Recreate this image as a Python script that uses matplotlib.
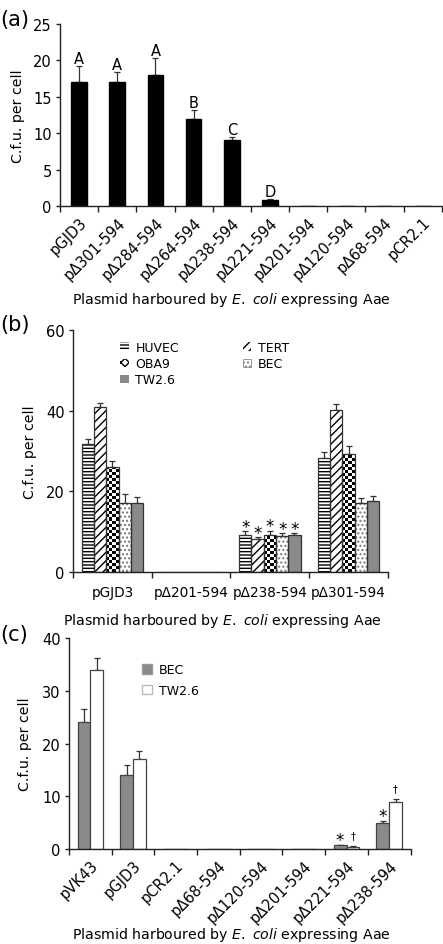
import numpy as np
import matplotlib
matplotlib.use('Agg')
import matplotlib.pyplot as plt
from matplotlib.patches import Patch

plt.rcParams['font.family'] = ['DejaVu Sans']
plt.rcParams['mathtext.fontset'] = 'dejavusans'
plt.rcParams['hatch.linewidth'] = 1.0

# ---------------- data ----------------
# Panel (a)
a_labels = ['pGJD3', 'pΔ301-594', 'pΔ284-594', 'pΔ264-594', 'pΔ238-594',
            'pΔ221-594', 'pΔ201-594', 'pΔ120-594', 'pΔ68-594', 'pCR2.1']
a_values = [17.0, 17.0, 18.0, 12.0, 9.0, 0.8, 0, 0, 0, 0]
a_errors = [2.2, 1.4, 2.3, 1.2, 0.5, 0.2, 0, 0, 0, 0]
a_letters = ['A', 'A', 'A', 'B', 'C', 'D', '', '', '', '']

# Panel (b)
b_groups = ['pGJD3', 'pΔ201-594', 'pΔ238-594', 'pΔ301-594']
b_series = ['HUVEC', 'TERT', 'OBA9', 'BEC', 'TW2.6']
b_huvec = [31.7, 0, 9.3, 28.4]
b_huvec_err = [1.4, 0, 0.8, 1.3]
b_tert = [40.8, 0, 8.2, 40.1]
b_tert_err = [1.0, 0, 0.5, 1.6]
b_oba9 = [26.0, 0, 9.3, 29.3]
b_oba9_err = [1.6, 0, 1.0, 2.0]
b_bec = [17.1, 0, 9.1, 17.1]
b_bec_err = [2.2, 0, 0.6, 1.4]
b_tw = [17.1, 0, 9.15, 17.6]
b_tw_err = [1.6, 0, 0.5, 1.4]
b_marks = ['', '', '*', '']

# Panel (c)
c_labels = ['pVK43', 'pGJD3', 'pCR2.1', 'pΔ68-594', 'pΔ120-594',
            'pΔ201-594', 'pΔ221-594', 'pΔ238-594']
c_bec = [24.0, 14.0, 0, 0, 0, 0, 0.7, 5.0]
c_bec_err = [2.5, 1.9, 0, 0, 0, 0, 0.15, 0.4]
c_tw = [34.0, 17.0, 0, 0, 0, 0, 0.45, 9.0]
c_tw_err = [2.2, 1.6, 0, 0, 0, 0, 0.05, 0.4]
c_bec_marks = ['', '', '', '', '', '', '*', '*']
c_tw_marks = ['', '', '', '', '', '', '†', '†']

XLABEL = r'Plasmid harboured by $\mathit{E.\ coli}$ expressing Aae'
AXC = '#222222'
ERRC = '#333333'
GREY = '#8a8a8a'
FS = 10.5
LFS = 10.2

fig = plt.figure(figsize=(4.43, 9.45), dpi=100)
ax_a = fig.add_axes([0.1354, 0.781, 0.862, 0.1926])
ax_b = fig.add_axes([0.1648, 0.3933, 0.711, 0.2567])
ax_c = fig.add_axes([0.1558, 0.1005, 0.771, 0.2233])


def style(ax):
    for s in ['top', 'right']:
        ax.spines[s].set_visible(False)
    for s in ['left', 'bottom']:
        ax.spines[s].set_color(AXC)
        ax.spines[s].set_linewidth(1.0)
    ax.tick_params(axis='y', direction='out', length=3, width=1, color=AXC,
                   labelsize=FS, pad=3)
    ax.tick_params(axis='x', which='major', length=0, labelsize=FS)
    ax.tick_params(axis='x', which='minor', direction='out', length=4,
                   width=1, color=AXC)


def labels(ax, ylx, xlx, xly):
    ax.set_ylabel('C.f.u. per cell', fontsize=LFS)
    ax.yaxis.set_label_coords(ylx, 0.5)
    ax.yaxis.label.set_va('center')
    ax.set_xlabel(XLABEL, fontsize=LFS)
    ax.xaxis.set_label_coords(xlx, xly)
    ax.xaxis.label.set_va('center')


def errs(ax, x, v, e):
    x = np.asarray(x, float); v = np.asarray(v, float); e = np.asarray(e, float)
    m = v > 0
    ax.errorbar(x[m], v[m], yerr=[np.zeros(m.sum()), e[m]], fmt='none',
                ecolor=ERRC, elinewidth=0.9, capsize=2.5, capthick=0.9, zorder=1)


def checker(ax, patches, sq=3.0):
    fig.canvas.draw()
    for p in patches:
        h = p.get_height()
        if h <= 0:
            continue
        x0, w = p.get_x(), p.get_width()
        (px0, py0), (px1, py1) = ax.transData.transform([(x0, 0), (x0 + w, h)])
        nx = max(1, int(round((px1 - px0) / sq)))
        ny = max(1, int(round((py1 - py0) / sq)))
        arr = (np.add.outer(np.arange(ny), np.arange(nx)) % 2).astype(float)
        xl, yl = ax.get_xlim(), ax.get_ylim()
        im = ax.imshow(arr, cmap='gray', extent=[x0, x0 + w, 0, ny * sq * h / (py1 - py0)],
                       interpolation='nearest', aspect='auto', zorder=2, origin='lower')
        im.set_clip_path(p)
        ax.set_xlim(xl); ax.set_ylim(yl)


# ---------------- (a) ----------------
style(ax_a)
xa = np.arange(len(a_labels)) + 0.5
ax_a.bar(xa, a_values, width=0.41, color='black', edgecolor='black', zorder=2)
errs(ax_a, xa, a_values, a_errors)
for x, v, e, t in zip(xa, a_values, a_errors, a_letters):
    if t:
        ax_a.annotate(t, (x, v + e), xytext=(0, 0), textcoords='offset points',
                      ha='center', va='bottom', fontsize=FS)
ax_a.set_xlim(0, len(a_labels))
ax_a.set_ylim(0, 25)
ax_a.set_yticks([0, 5, 10, 15, 20, 25])
ax_a.set_xticks(xa)
ax_a.set_xticks(np.arange(len(a_labels) + 1), minor=True)
ax_a.set_xticklabels(a_labels, rotation=45, ha='right', va='top',
                     rotation_mode='anchor')
ax_a.tick_params(axis='x', which='major', pad=6)
labels(ax_a, -0.11, 0.448, -0.511)
fig.text(0.0, 0.979, '(a)', fontsize=15, va='center', ha='left')

# ---------------- (b) ----------------
style(ax_b)
ng = len(b_groups)
bw = 0.78 / 5
xg = np.arange(ng) + 0.5
bvals = [b_huvec, b_tert, b_oba9, b_bec, b_tw]
berrs = [b_huvec_err, b_tert_err, b_oba9_err, b_bec_err, b_tw_err]
styles = [dict(color='white', hatch='-----'),
          dict(color='white', hatch='////'),
          dict(color='white', hatch=''),
          dict(color='white', hatch='....'),
          dict(color=GREY, hatch='')]
hatch_cols = ['black', 'black', 'black', '#777777', GREY]
oba_bars = None
for i, (vals, er) in enumerate(zip(bvals, berrs)):
    x = xg + (i - 2) * bw
    st = styles[i]
    bars = ax_b.bar(x, vals, width=bw, color=st['color'], hatch=st['hatch'],
                    edgecolor=hatch_cols[i], linewidth=0, zorder=2)
    ax_b.bar(x, vals, width=bw, fill=False, edgecolor='#333333', linewidth=0.9, zorder=3)
    if i == 2:
        oba_bars = bars
    errs(ax_b, x, vals, er)
    for xx, v, e, mk in zip(x, vals, er, b_marks):
        if mk and v > 0:
            ax_b.annotate(mk, (xx, v + e), xytext=(0, -0.5), textcoords='offset points',
                          ha='center', va='baseline', fontsize=12)
ax_b.set_xlim(0, ng)
ax_b.set_ylim(0, 60)
ax_b.set_yticks([0, 20, 40, 60])
ax_b.set_xticks(xg)
ax_b.set_xticks(np.arange(ng + 1), minor=True)
ax_b.set_xticklabels(b_groups, fontsize=9.8)
ax_b.tick_params(axis='x', which='major', pad=9)
labels(ax_b, -0.137, 0.473, -0.197)
fig.text(0.0, 0.656, '(b)', fontsize=15, va='center', ha='left')

# ---------------- (c) ----------------
style(ax_c)
nc = len(c_labels)
xc = np.arange(nc) + 0.5
cw = 0.30
x1 = xc - cw / 2
x2 = xc + cw / 2
ax_c.bar(x1, c_bec, width=cw, color=GREY, edgecolor='#444444', linewidth=0.9,
         zorder=2, label='BEC')
ax_c.bar(x2, c_tw, width=cw, color='white', edgecolor='#444444', linewidth=0.9,
         zorder=2, label='TW2.6')
errs(ax_c, x1, c_bec, c_bec_err)
errs(ax_c, x2, c_tw, c_tw_err)
for xx, v, e, mk in zip(x1, c_bec, c_bec_err, c_bec_marks):
    if mk:
        ax_c.annotate(mk, (xx, v + e), xytext=(0, -0.5), textcoords='offset points',
                      ha='center', va='baseline', fontsize=12)
for xx, v, e, mk in zip(x2, c_tw, c_tw_err, c_tw_marks):
    if mk:
        ax_c.annotate(mk, (xx, v + e), xytext=(0, 6), textcoords='offset points',
                      ha='center', va='baseline', fontsize=7)
ax_c.set_xlim(0, nc)
ax_c.set_ylim(0, 40)
ax_c.set_yticks([0, 10, 20, 30, 40])
ax_c.set_xticks(xc)
ax_c.set_xticks(np.arange(nc + 1), minor=True)
ax_c.set_xticklabels(c_labels, rotation=45, ha='right', va='top',
                     rotation_mode='anchor')
ax_c.tick_params(axis='x', which='major', pad=6)
labels(ax_c, -0.129, 0.474, -0.403)
fig.text(0.0, 0.328, '(c)', fontsize=15, va='center', ha='left')

ax_c.legend(handles=[Patch(facecolor=GREY, edgecolor='#999999', label='BEC'),
                     Patch(facecolor='white', edgecolor='#bbbbbb', label='TW2.6')],
            loc='upper left', bbox_to_anchor=(0.215, 0.88), frameon=False,
            fontsize=9, handlelength=0.8, handleheight=0.8,
            handletextpad=0.5, labelspacing=0.6, borderaxespad=0, borderpad=0)

# legend (b)
leg_handles = [Patch(facecolor='white', edgecolor='black', hatch='-----', linewidth=0, label='HUVEC'),
               Patch(facecolor='white', edgecolor='black', hatch='xxxx', linewidth=0, label='OBA9'),
               Patch(facecolor=GREY, edgecolor=GREY, linewidth=0, label='TW2.6'),
               Patch(facecolor='white', edgecolor='black', hatch='////', linewidth=0, label='TERT'),
               Patch(facecolor='white', edgecolor='#777777', hatch='....', linewidth=0.5, label='BEC')]
ax_b.legend(handles=leg_handles, ncol=2, loc='upper left', bbox_to_anchor=(0.15, 0.953),
            frameon=False, fontsize=9, handlelength=0.7, handleheight=0.7,
            handletextpad=0.5, labelspacing=0.25, columnspacing=5.1,
            borderaxespad=0, borderpad=0)

checker(ax_b, oba_bars)

fig.savefig('out.png', dpi=100)
